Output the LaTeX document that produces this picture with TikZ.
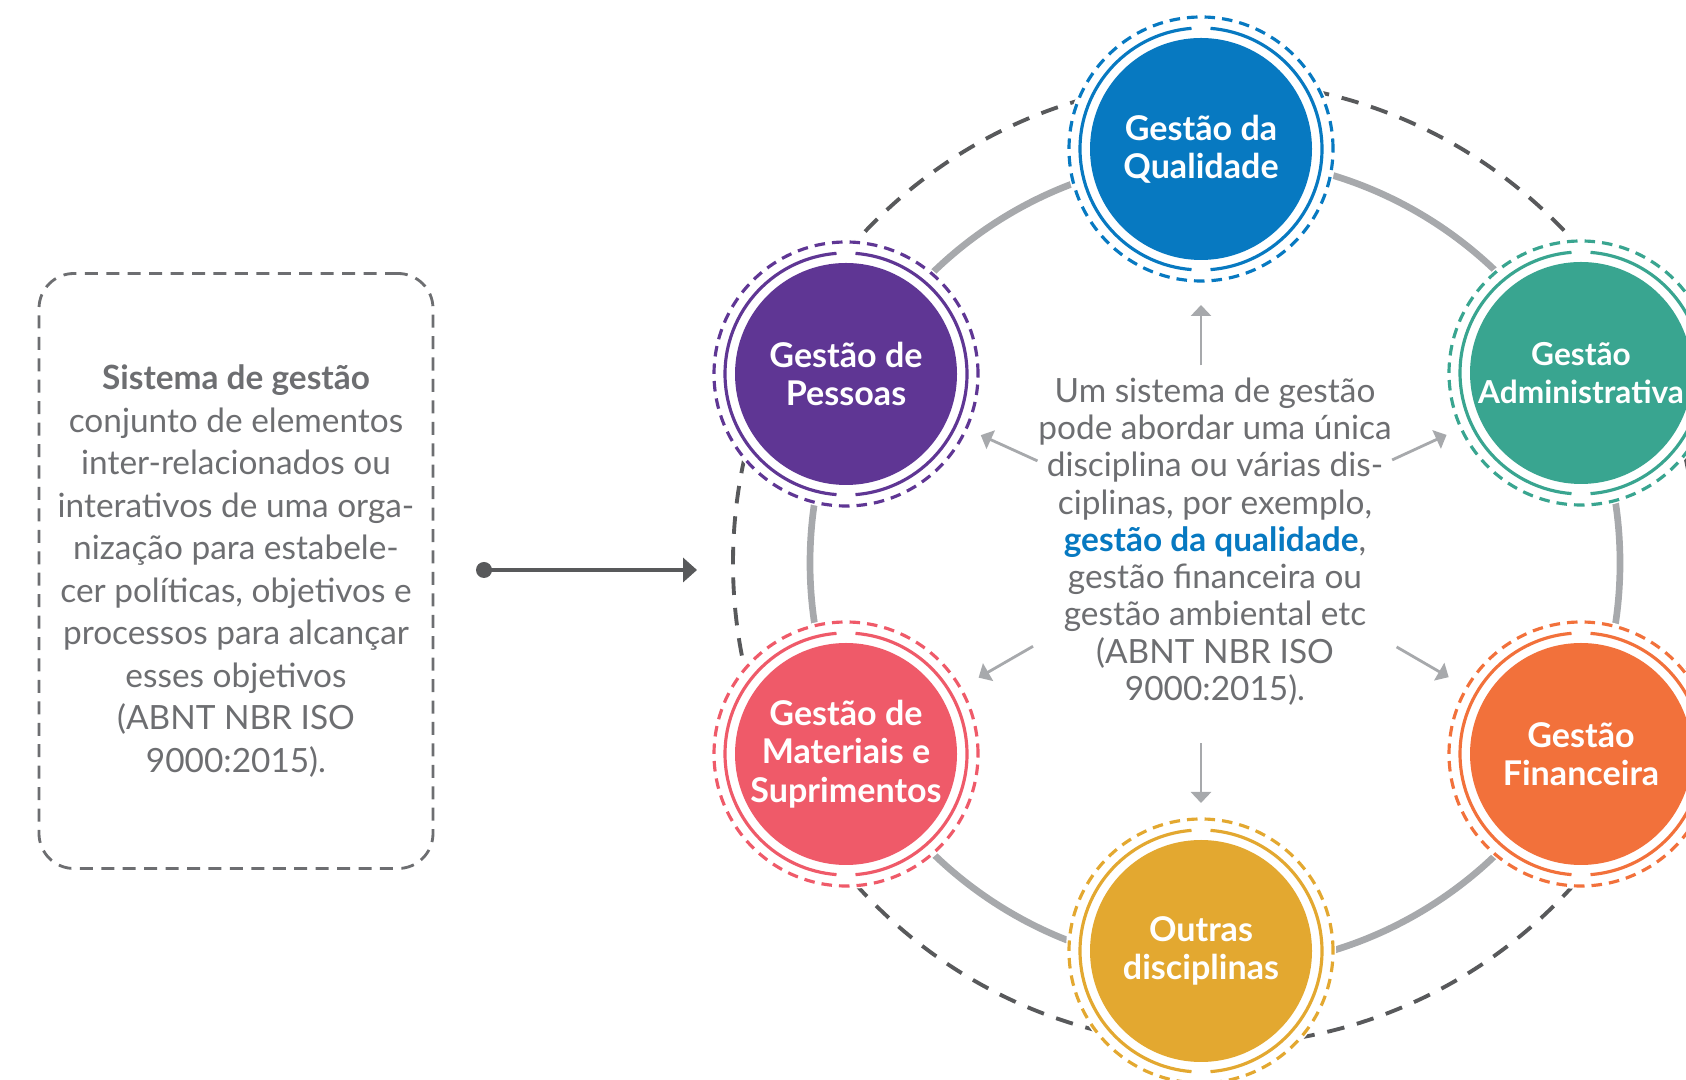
\documentclass[tikz,border=0pt]{standalone}
\usepackage{fontspec}
\setmainfont{Lato}
\usetikzlibrary{arrows.meta}

\definecolor{textgray}{HTML}{6D6E71}
\definecolor{darkgray}{HTML}{58595B}
\definecolor{ringgray}{HTML}{A7A9AC}
\definecolor{qualblue}{HTML}{0779C1}
\definecolor{pesspurple}{HTML}{5F3694}
\definecolor{admteal}{HTML}{39A590}
\definecolor{matred}{HTML}{EF5A69}
\definecolor{finorange}{HTML}{F2713B}
\definecolor{outgold}{HTML}{E3A830}

\tikzset{
  disc/.style={circle,minimum size=2.22cm,inner sep=0pt,align=center,text=white,
    font=\bfseries\fontsize{9.7}{10.9}\selectfont,
    preaction={draw=white,fill=white,line width=0.48cm}},
  ringdash/.style={line width=0.9pt,dash pattern=on 3pt off 2pt},
  ringline/.style={line width=0.9pt},
  infobox/.style={draw=textgray,line width=0.8pt,dash pattern=on 3.7pt off 2.4pt,
    rounded corners=0.35cm,minimum width=3.94cm,minimum height=5.95cm,
    align=center,text=textgray,font=\fontsize{9.5}{12.1}\selectfont},
  pointer/.style={ringgray,line width=0.8pt,-{Triangle[length=0.11cm,width=0.2cm]},
    shorten <=1.95cm,shorten >=1.48cm}
}

\begin{document}
\begin{tikzpicture}
	\useasboundingbox (0,0) rectangle (16.86,10.8);
	\clip (0,0) rectangle (16.86,10.8);
	% big rings behind the discs
	\coordinate (hub) at (12.15,5.17);
	\draw[ringgray,line width=1.9pt](hub) circle (4.05);
	\draw[darkgray,line width=1.1pt,dash pattern=on 5pt off 3.7pt](hub) circle (4.82);
	
	\node[disc,fill=qualblue](qual) at (12.01,9.31){Gestão da\\Qualidade};
	\node[disc,fill=pesspurple](pess) at (8.46,7.06){Gestão de\\Pessoas};
	\node[disc,fill=admteal,font=\bfseries\fontsize{9}{10.9}\selectfont](adm) at (15.81,7.07){Gestão\\Administrativa};
	\node[disc,fill=matred](mat) at (8.46,3.26){Gestão de\\Materiais e\\Suprimentos};
	\node[disc,fill=finorange](fin) at (15.81,3.26){Gestão\\Financeira};
	\node[disc,fill=outgold](outr) at (12.01,1.29){Outras\\disciplinas};
	
	\foreach \n/\c in {qual/qualblue,pess/pesspurple,adm/admteal,mat/matred,fin/finorange,outr/outgold}{
		\draw[ringdash,\c](\n.center) circle (1.32);
		\draw[ringline,\c](\n.center) ++(94.5:1.21) arc (94.5:265.5:1.21);
		\draw[ringline,\c](\n.center) ++(-85.5:1.21) arc (-85.5:85.5:1.21);
	}
	
	% left box
	\node[infobox](info) at (2.36,5.09){{\bfseries Sistema de gestão}\\conjunto de elementos\\inter-relacionados ou\\interativos de uma orga-\\nização para estabele-\\cer políticas, objetivos e\\processos para alcançar\\esses objetivos\\(ABNT NBR ISO\\9000:2015).};
	\node[circle,fill=darkgray,minimum size=0.16cm,inner sep=0pt](start) at (4.84,5.10){};
	\coordinate (tip) at (6.97,5.10);
	\draw[darkgray,line width=1.2pt,-{Triangle[length=0.14cm,width=0.24cm]}](start.center)--(tip);
	
	% centre text
	\node[align=center,text=textgray,font=\fontsize{9.5}{10.6}\selectfont](note) at (12.15,5.385){Um sistema de gestão\\pode abordar uma única\\disciplina ou várias dis-\\ciplinas, por exemplo,\\{\bfseries\color{qualblue}gestão da qualidade},\\gestão financeira ou\\gestão ambiental etc\\(ABNT NBR ISO\\9000:2015).};
	\draw[pointer,shorten <=1.76cm,shorten >=1.56cm](qual.center |- note.center)--(qual.center);
	\draw[pointer](note.center)--(pess.center);
	\draw[pointer](note.center)--(adm.center);
	\draw[pointer,shorten <=2.1cm,shorten >=1.53cm](note.center)--(mat.center);
	\draw[pointer,shorten <=2.1cm,shorten >=1.53cm](note.center)--(fin.center);
	\draw[pointer,shorten <=2.02cm,shorten >=1.48cm](outr.center |- note.center)--(outr.center);
	
\end{tikzpicture}
\end{document}
